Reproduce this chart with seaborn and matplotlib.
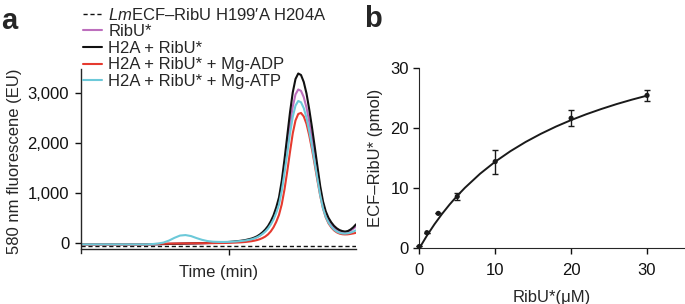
import numpy as np
import pandas as pd
import matplotlib
matplotlib.use("Agg")
import matplotlib.pyplot as plt
import seaborn as sns

sns.set_style("ticks")
plt.rcParams['font.family'] = ['Liberation Sans', 'DejaVu Sans']
plt.rcParams['mathtext.fontset'] = 'custom'
plt.rcParams['mathtext.it'] = 'Liberation Sans:italic'
plt.rcParams['mathtext.rm'] = 'Liberation Sans'

# ---------------- Panel a data ----------------
time = [0, 4, 8, 12, 16, 20, 24,
        26, 28, 30, 32, 34, 36, 38, 40, 42, 44, 46, 48, 50, 52, 54, 56, 58, 60, 62,
        63, 64, 65, 66, 67, 68, 69, 70, 71, 72, 73, 74, 75, 76, 77, 78, 79, 80,
        81, 82, 83, 84, 85, 86, 87, 88, 89, 90, 91, 92, 93, 94, 95, 96, 97, 98, 99, 100]

black = [-20, -20, -20, -20, -20, -20, -20,
         -20, -18, -15, -12, -10, -8, -5, -2, 0, 3, 6, 10, 15, 20, 28, 38, 50, 68, 95,
         115, 140, 175, 220, 275, 345, 440, 560, 720, 920, 1250, 1680, 2150, 2620, 3020, 3290, 3400, 3370,
         3230, 3000, 2680, 2320, 1930, 1530, 1140, 840, 640, 510, 420, 350, 300, 265, 245, 235, 245, 275, 320, 380]

purple = [-20, -20, -20, -20, -20, -20, -20,
          -20, -18, -15, -12, -10, -8, -6, -4, -2, 0, 3, 6, 10, 14, 20, 28, 38, 52, 78,
          100, 124, 154, 194, 244, 308, 395, 505, 650, 833, 1132, 1522, 1948, 2374, 2736, 2981, 3080, 3053,
          2926, 2718, 2428, 2102, 1749, 1386, 1033, 761, 580, 462, 380, 317, 272, 245, 230, 225, 232, 255, 290, 335]

red = [-20, -20, -20, -20, -20, -20, -20,
       -16, -12, -9, -6, -4, -2, -1, 0, 1, 2, 3, 4, 5, 7, 10, 14, 19, 28, 42,
       52, 65, 82, 105, 135, 178, 238, 320, 430, 570, 780, 1080, 1440, 1830, 2200, 2460, 2590, 2610,
       2540, 2390, 2160, 1880, 1570, 1250, 950, 700, 520, 400, 320, 260, 220, 195, 182, 178, 180, 188, 198, 210]

cyan = [-20, -20, -20, -20, -20, -20, -20,
        -15, -5, 15, 55, 110, 155, 165, 145, 105, 70, 45, 32, 28, 27, 30, 35, 45, 58, 80,
        98, 120, 150, 188, 235, 295, 375, 475, 610, 775, 1050, 1410, 1800, 2195, 2530, 2757, 2850, 2824,
        2707, 2514, 2246, 1944, 1617, 1282, 955, 700, 530, 415, 335, 275, 235, 210, 198, 195, 200, 212, 235, 260]

control_time = [0, 100]
control = [-45, -45]

series_labels = [r"$\mathit{Lm}$ECF–RibU H199′A H204A", "RibU*", "H2A + RibU*",
                 "H2A + RibU* + Mg-ADP", "H2A + RibU* + Mg-ATP"]
series_colors = ["#111111", "#bd6fbd", "#111111", "#e53a2f", "#6cc9d9"]

yticks_a = [0, 1000, 2000, 3000]
yticklabels_a = ["0", "1,000", "2,000", "3,000"]

# ---------------- Panel b data ----------------
conc = [0, 1, 2.5, 5, 10, 20, 30]
bound = [0.3, 2.6, 5.8, 8.6, 14.4, 21.6, 25.4]
bound_err = [0, 0, 0, 0.65, 2.0, 1.35, 0.85]

fit_x = [0, 1, 2, 3, 4, 5, 6, 8, 10, 12, 14, 16, 18, 20, 22, 24, 26, 28, 30]
fit_y = [0, 2.10, 4.00, 5.72, 7.29, 8.72, 10.04, 12.38, 14.39, 16.13, 17.66,
         19.01, 20.22, 21.30, 22.27, 23.15, 23.96, 24.69, 25.36]

xticks_b = [0, 10, 20, 30]
yticks_b = [0, 10, 20, 30]

FS = 12

# ---------------- Figure ----------------
W, H = 685, 304
fig = plt.figure(figsize=(W / 100, H / 100), dpi=100)

# Panel a
axa = fig.add_axes([81 / W, 1 - 253.3 / H, (356 - 81) / W, (253.3 - 69) / H])
lw = 1.5
sns.lineplot(x=control_time, y=control, ax=axa, color=series_colors[0], lw=1.0,
             ls=(0, (3, 2)), label=series_labels[0])
sns.lineplot(x=time, y=purple, ax=axa, color=series_colors[1], lw=lw, label=series_labels[1])
sns.lineplot(x=time, y=black, ax=axa, color=series_colors[2], lw=lw, label=series_labels[2])
sns.lineplot(x=time, y=red, ax=axa, color=series_colors[3], lw=lw, label=series_labels[3])
sns.lineplot(x=time, y=cyan, ax=axa, color=series_colors[4], lw=lw, label=series_labels[4])

axa.set_xlim(0, 100)
axa.set_ylim(-200, 3490)
axa.spines['top'].set_visible(False)
axa.spines['right'].set_visible(False)
axa.spines['bottom'].set_position(('data', -110))
axa.spines['left'].set_linewidth(1.0)
axa.spines['bottom'].set_linewidth(1.0)
axa.set_yticks(yticks_a)
axa.set_yticklabels(yticklabels_a, fontsize=FS)
axa.set_xticks([53.8])
axa.set_xticklabels([""])
axa.tick_params(direction='out', length=4.5, width=1, pad=4, colors='#111111')
axa.set_xlabel("Time (min)", fontsize=FS, labelpad=3)
axa.set_ylabel("580 nm fluorescene (EU)", fontsize=FS, labelpad=4)

handles, labels = axa.get_legend_handles_labels()
axa.get_legend().remove()
fig.legend(handles, labels, loc='upper left', bbox_to_anchor=(83 / W, 1 - 6.5 / H),
           frameon=False, fontsize=FS, handlelength=1.15, handletextpad=0.36,
           labelspacing=0.1, borderpad=0, borderaxespad=0)

# Panel b
axb = fig.add_axes([419.3 / W, 1 - 248.3 / H, (685 - 419.3) / W, (248.3 - 67.7) / H])
sns.lineplot(x=fit_x, y=fit_y, ax=axb, color="#1a1a1a", lw=1.4)
axb.errorbar(conc, bound, yerr=bound_err, fmt='none', ecolor="#1a1a1a",
             elinewidth=1.0, capsize=2.5, capthick=1.0, clip_on=False)
sns.scatterplot(x=conc, y=bound, ax=axb, color="#1a1a1a", s=14, edgecolor="none",
                clip_on=False, zorder=5)
axb.set_xlim(0, 35)
axb.set_ylim(0, 30)
axb.spines['top'].set_visible(False)
axb.spines['right'].set_visible(False)
axb.set_xticks(xticks_b)
axb.set_yticks(yticks_b)
axb.tick_params(axis='y', direction='out', length=4.5, width=1, pad=3, labelsize=FS, colors='#111111')
axb.tick_params(axis='x', direction='out', length=4.5, width=1, pad=6, labelsize=FS, colors='#111111')
axb.set_xlabel("RibU*(μM)", fontsize=FS, labelpad=9)
axb.set_ylabel("ECF–RibU* (pmol)", fontsize=FS, labelpad=5)

fig.text(1 / W, 1 - 29 / H, "a", fontsize=21, fontweight='bold', ha='left', va='baseline')
fig.text(364 / W, 1 - 27 / H, "b", fontsize=21, fontweight='bold', ha='left', va='baseline')

fig.savefig("out.png", dpi=100)
